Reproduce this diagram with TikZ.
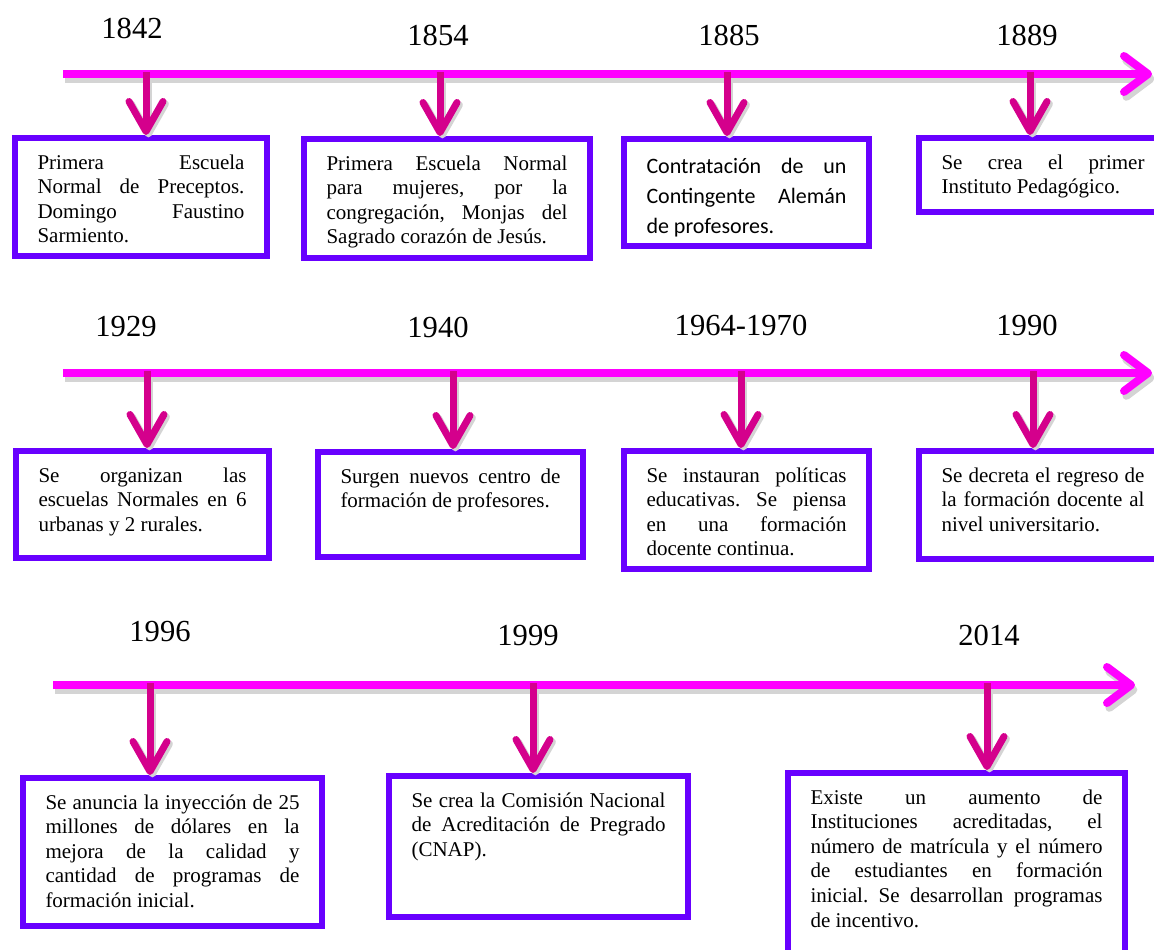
\documentclass[tikz,border=0pt]{standalone}
\usepackage{fontspec}
\setmainfont{Liberation Serif}
\newfontfamily\carlito{Carlito}
\usepackage{tikz}
\usetikzlibrary{arrows.meta,positioning}

\definecolor{linea}{RGB}{255,0,255}
\definecolor{flecha}{RGB}{212,0,140}
\definecolor{borde}{RGB}{104,0,255}
\hyphenpenalty=10000
\exhyphenpenalty=10000
\tolerance=10000
\frenchspacing

\tikzset{
  eje/.style={line width=4pt, draw=linea, -{Straight Barb[length=12pt,width=18pt,round]}},
  baja/.style={line width=3.5pt, draw=flecha, -{Straight Barb[length=15pt,width=17pt,round]}},
  sombra/.style={draw=black!17},
  anio/.style={font=\fontsize{15.3}{18}\selectfont, inner sep=0pt},
  caja/.style={draw=borde, line width=3pt, anchor=north west, inner xsep=11.25pt,
    inner ysep=0pt, text height=15.5pt, align=justify,
    font=\fontsize{10.5}{12.3}\selectfont}
}

\begin{document}
\begin{tikzpicture}[x=0.5pt,y=-0.5pt]
  \useasboundingbox (0,0) rectangle (1154,949);

  % primera linea
  \coordinate (i1) at (63,74);
  \coordinate (f1) at (1152,74);

  \node[anio] (y1) at (132,28) {1842};
  \node[anio] (y2) at (438,35) {1854};
  \node[anio] (y3) at (729,35) {1885};
  \node[anio] (y4) at (1027,35) {1889};

  \node[caja, text width=103.5pt, text depth=43.5pt] (a1) at (12,135)
    {Primera Escuela\linebreak Normal de Preceptos.\linebreak Domingo Faustino\linebreak Sarmiento.};
  \node[caja, text width=120.5pt, text depth=44pt] (a2) at (301,136)
    {Primera Escuela Normal\linebreak para mujeres, por la\linebreak congregación, Monjas del\linebreak Sagrado corazón de Jesús.};
  \node[caja, text width=100pt, text height=17pt, text depth=36.5pt,
    font=\carlito\fontsize{11}{15}\selectfont] (a3) at (621,136)
    {Contratación de un\linebreak Contingente Alemán\linebreak de profesores.};
  \node[caja, text width=101.5pt, text depth=21.5pt] (a4) at (916,135)
    {Se crea el primer\linebreak Instituto Pedagógico.};

  \coordinate (t1) at (146,72);
  \coordinate (t2) at (440,72);
  \coordinate (t3) at (727,72);
  \coordinate (t4) at (1030,72);

  % segunda linea
  \coordinate (i2) at (63,373);
  \coordinate (f2) at (1152,373);

  \node[anio] (y5) at (126,327) {1929};
  \node[anio] (y6) at (438,327) {1940};
  \node[anio] (y7) at (741,325) {1964-1970};
  \node[anio] (y8) at (1027,325) {1990};

  \node[caja, text width=104pt, text depth=38pt] (b1) at (13,448)
    {Se organizan las\linebreak escuelas Normales en 6\linebreak urbanas y 2 rurales.};
  \node[caja, text width=110pt, text depth=37pt] (b2) at (315,449)
    {Surgen nuevos centro de\linebreak formación de profesores.};
  \node[caja, text width=100pt, text depth=43.5pt] (b3) at (621,448)
    {Se instauran políticas\linebreak educativas. Se piensa\linebreak en una formación\linebreak docente continua.};
  \node[caja, text width=101.5pt, text depth=38.5pt] (b4) at (916,448)
    {Se decreta el regreso de\linebreak la formación docente al\linebreak nivel universitario.};

  \coordinate (t5) at (147,371);
  \coordinate (t6) at (453,371);
  \coordinate (t7) at (741,371);
  \coordinate (t8) at (1033,371);

  % tercera linea
  \coordinate (i3) at (53,685);
  \coordinate (f3) at (1135,685);

  \node[anio] (y9) at (160,632) {1996};
  \node[anio] (y10) at (528,635) {1999};
  \node[anio] (y11) at (989,635) {2014};

  \node[caja, text width=127pt, text depth=58.5pt] (c1) at (20,775)
    {Se anuncia la inyección de 25\linebreak millones de dólares en la\linebreak mejora de la calidad y\linebreak cantidad de programas de\linebreak formación inicial.};
  \node[caja, text width=127pt, text depth=55pt] (c2) at (386,773)
    {Se crea la Comisión Nacional\linebreak de Acreditación de Pregrado\linebreak (CNAP).};
  \node[caja, text width=146pt, text depth=95pt] (c3) at (785,770)
    {Existe un aumento de\linebreak Instituciones acreditadas, el\linebreak número de matrícula y el número\linebreak de estudiantes en formación\linebreak inicial. Se desarrollan programas\linebreak de incentivo.};

  \coordinate (t9) at (150,683);
  \coordinate (t10) at (533,683);
  \coordinate (t11) at (987,683);

  % sombras
  \begin{scope}[transform canvas={shift={(1.2pt,-2.4pt)}}]
    \foreach \i in {1,2,3}
      \draw[eje, sombra] (i\i) -- (f\i);
  \end{scope}
  \begin{scope}[transform canvas={shift={(1.2pt,-1.2pt)}}]
    \path (t1) edge[baja, sombra] (t1 |- a1.north)
          (t2) edge[baja, sombra] (t2 |- a2.north)
          (t3) edge[baja, sombra] (t3 |- a3.north)
          (t4) edge[baja, sombra] (t4 |- a4.north)
          (t5) edge[baja, sombra] (t5 |- b1.north)
          (t6) edge[baja, sombra] (t6 |- b2.north)
          (t7) edge[baja, sombra] (t7 |- b3.north)
          (t8) edge[baja, sombra] (t8 |- b4.north)
          (t9) edge[baja, sombra] (t9 |- c1.north)
          (t10) edge[baja, sombra] (t10 |- c2.north)
          (t11) edge[baja, sombra] (t11 |- c3.north);
  \end{scope}

  \foreach \i in {1,2,3}
    \draw[eje] (i\i) -- (f\i);

  \path (t1) edge[baja] (t1 |- a1.north)
        (t2) edge[baja] (t2 |- a2.north)
        (t3) edge[baja] (t3 |- a3.north)
        (t4) edge[baja] (t4 |- a4.north)
        (t5) edge[baja] (t5 |- b1.north)
        (t6) edge[baja] (t6 |- b2.north)
        (t7) edge[baja] (t7 |- b3.north)
        (t8) edge[baja] (t8 |- b4.north)
        (t9) edge[baja] (t9 |- c1.north)
        (t10) edge[baja] (t10 |- c2.north)
        (t11) edge[baja] (t11 |- c3.north);

\end{tikzpicture}
\end{document}
